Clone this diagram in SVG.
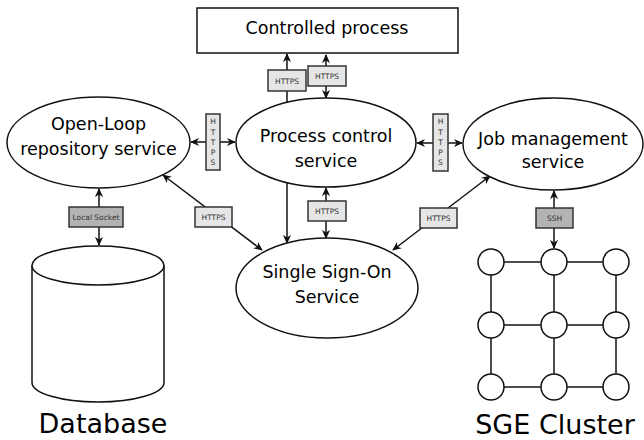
<svg xmlns="http://www.w3.org/2000/svg" width="644" height="440" viewBox="0 0 644 440">
<style>
.n{fill:#fff;stroke:#111;stroke-width:1.5}
.t{font-family:"DejaVu Sans",sans-serif;font-size:17.5px;fill:#000;text-anchor:middle}
.big{font-family:"DejaVu Sans",sans-serif;font-size:27px;fill:#000;text-anchor:middle}
.c{stroke:#111;stroke-width:1.5;fill:none}
.lb{fill:#e6e6e6;stroke:#333;stroke-width:1.5}
.ld{fill:#b3b3b3;stroke:#333;stroke-width:1.5}
.lt{font-family:"DejaVu Sans",sans-serif;font-size:7.5px;fill:#333;text-anchor:middle}
</style>
<defs>
<marker id="a" viewBox="0 0 10 10" refX="9" refY="5" markerWidth="9" markerHeight="9" markerUnits="userSpaceOnUse" orient="auto-start-reverse">
<path d="M0,0.5 L10,5 L0,9.5 L3,5 z" fill="#111"/>
</marker>
</defs>
<g id="connectors">
<line class="c" x1="287" y1="102" x2="287" y2="54" marker-end="url(#a)"/>
<line class="c" x1="287" y1="183" x2="287" y2="243" marker-end="url(#a)"/>
<line class="c" x1="326" y1="55" x2="326" y2="98" marker-start="url(#a)" marker-end="url(#a)"/>
<line class="c" x1="191" y1="142" x2="235" y2="142" marker-start="url(#a)" marker-end="url(#a)"/>
<line class="c" x1="417" y1="143" x2="462" y2="143" marker-start="url(#a)" marker-end="url(#a)"/>
<line class="c" x1="163" y1="175" x2="262" y2="250" marker-start="url(#a)" marker-end="url(#a)"/>
<line class="c" x1="326" y1="188" x2="326" y2="238" marker-start="url(#a)" marker-end="url(#a)"/>
<line class="c" x1="490" y1="176" x2="393" y2="250" marker-start="url(#a)" marker-end="url(#a)"/>
<line class="c" x1="99" y1="189" x2="99" y2="245" marker-start="url(#a)" marker-end="url(#a)"/>
<line class="c" x1="554" y1="191" x2="554" y2="248" marker-start="url(#a)" marker-end="url(#a)"/>
<rect class="lb" x="268" y="70" width="38" height="21"/>
<text class="lt" x="287" y="83.5">HTTPS</text>
<rect class="lb" x="308" y="66" width="38" height="20"/>
<text class="lt" x="327" y="78.5">HTTPS</text>
<rect class="lb" x="206" y="114" width="14" height="56"/>
<text class="lt" x="213" y="124">H</text>
<text class="lt" x="213" y="134.5">T</text>
<text class="lt" x="213" y="145">T</text>
<text class="lt" x="213" y="155">P</text>
<text class="lt" x="213" y="165">S</text>
<rect class="lb" x="433" y="114" width="15" height="57"/>
<text class="lt" x="440.5" y="124">H</text>
<text class="lt" x="440.5" y="134.5">T</text>
<text class="lt" x="440.5" y="145">T</text>
<text class="lt" x="440.5" y="155">P</text>
<text class="lt" x="440.5" y="165">S</text>
<rect class="lb" x="195" y="207" width="37" height="20"/>
<text class="lt" x="213.5" y="219.5">HTTPS</text>
<rect class="lb" x="308" y="201" width="38" height="20"/>
<text class="lt" x="327" y="213.5">HTTPS</text>
<rect class="lb" x="420" y="208" width="37" height="20"/>
<text class="lt" x="438.5" y="220.5">HTTPS</text>
<rect class="ld" x="69" y="207" width="54" height="20"/>
<text class="lt" x="96" y="219.5">Local Socket</text>
<rect class="ld" x="536" y="208" width="37" height="20"/>
<text class="lt" x="554.5" y="220.5">SSH</text>
</g>
<g id="controlled">
<rect class="n" x="197" y="8" width="261" height="45"/>
<text class="t" x="327" y="34">Controlled process</text>
</g>
<g id="openloop">
<ellipse class="n" cx="98.5" cy="142.5" rx="91.5" ry="45.5"/>
<text class="t" x="98.5" y="130">Open-Loop</text>
<text class="t" x="98.5" y="155">repository service</text>
</g>
<g id="process">
<ellipse class="n" cx="326" cy="142.5" rx="90" ry="44.5"/>
<text class="t" x="326" y="142">Process control</text>
<text class="t" x="326" y="167">service</text>
</g>
<g id="job">
<ellipse class="n" cx="553" cy="144" rx="90" ry="46"/>
<text class="t" x="553" y="145">Job management</text>
<text class="t" x="553" y="168">service</text>
</g>
<g id="sso">
<ellipse class="n" cx="327" cy="288" rx="91" ry="50"/>
<text class="t" x="327" y="278">Single Sign-On</text>
<text class="t" x="327" y="303">Service</text>
</g>
<g id="database">
<path class="n" d="M32,265.5 L32,382.5 A66,19.5 0 0 0 164,382.5 L164,265.5"/>
<ellipse class="n" cx="98" cy="265.5" rx="66" ry="19.5"/>
<text class="big" x="103" y="433">Database</text>
</g>
<g id="cluster">
<g class="c">
<line x1="491" y1="262" x2="616" y2="262"/>
<line x1="491" y1="325" x2="616" y2="325"/>
<line x1="491" y1="387" x2="616" y2="387"/>
<line x1="491" y1="262" x2="491" y2="387"/>
<line x1="554" y1="262" x2="554" y2="387"/>
<line x1="616" y1="262" x2="616" y2="387"/>
</g>
<circle class="n" cx="491" cy="262" r="13"/>
<circle class="n" cx="554" cy="262" r="13"/>
<circle class="n" cx="616" cy="262" r="13"/>
<circle class="n" cx="491" cy="325" r="13"/>
<circle class="n" cx="554" cy="325" r="13"/>
<circle class="n" cx="616" cy="325" r="13"/>
<circle class="n" cx="491" cy="387" r="13"/>
<circle class="n" cx="554" cy="387" r="13"/>
<circle class="n" cx="616" cy="387" r="13"/>
<text class="big" x="555" y="434">SGE Cluster</text>
</g>
</svg>
